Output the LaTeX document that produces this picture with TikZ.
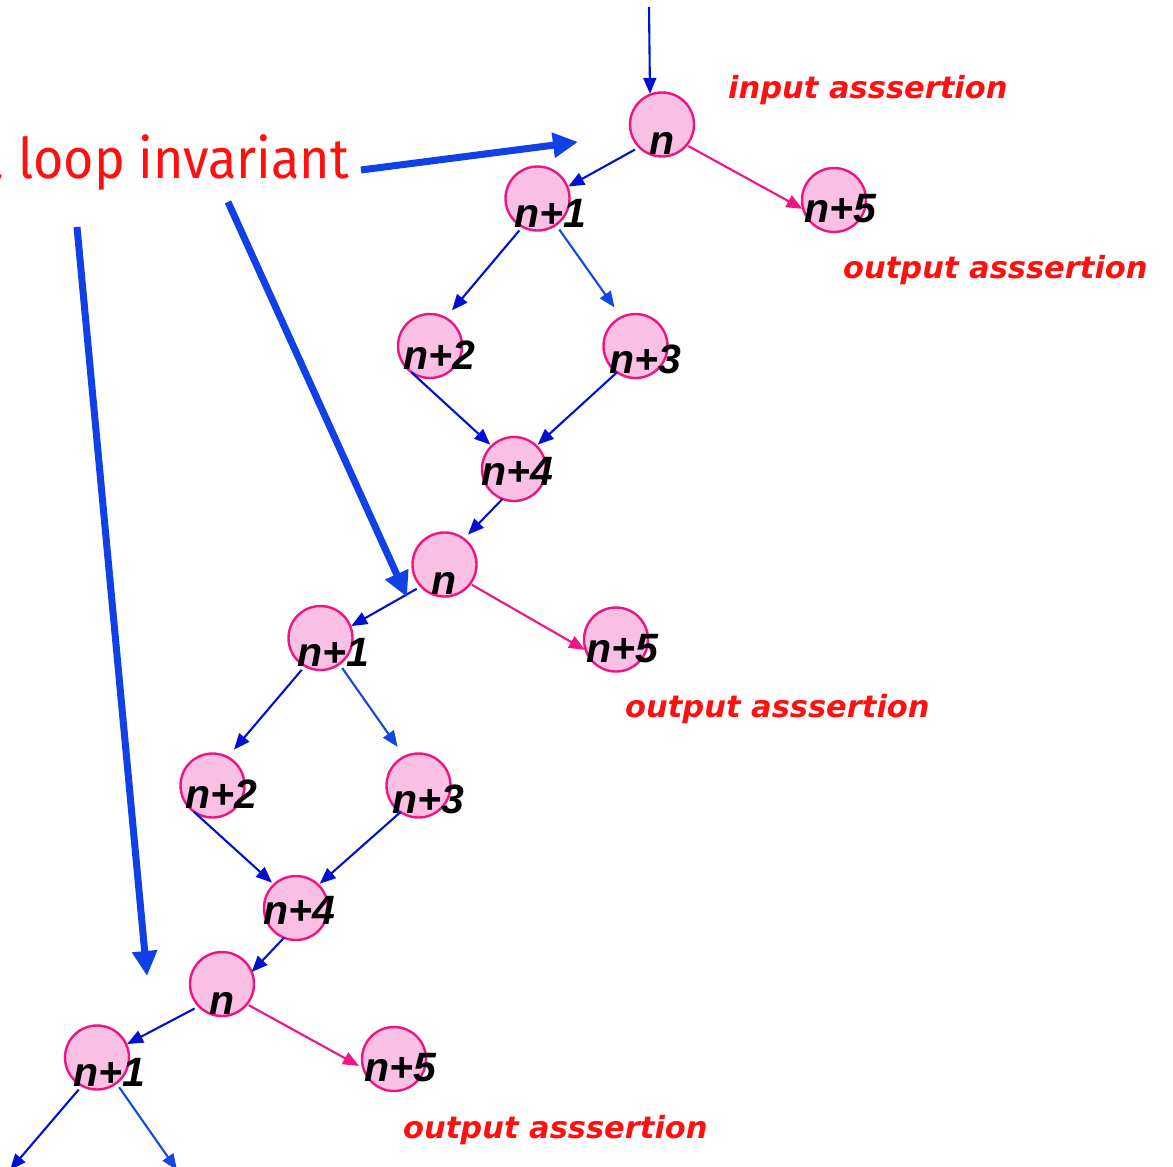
\documentclass[tikz,border=0pt]{standalone}
\usepackage{fontspec}
\usetikzlibrary{arrows.meta}
\newfontfamily\labfont{Liberation Sans}
\newfontfamily\notefont{DejaVu Sans}
\newfontfamily\invfont{Fira Sans}
\definecolor{eblue}{RGB}{0,16,210}
\definecolor{lblue}{RGB}{20,70,228}
\definecolor{tblue}{RGB}{16,64,230}
\definecolor{epink}{RGB}{240,20,130}
\definecolor{cfill}{RGB}{250,192,228}
\definecolor{nred}{RGB}{255,16,16}
\tikzset{
  st/.style={circle, draw=epink, fill=cfill, line width=2.4pt, minimum size=64pt, inner sep=0pt, outer sep=0pt},
  lbl/.style={font=\labfont\bfseries\itshape\fontsize{41}{41}\selectfont, inner sep=0pt},
  nt/.style={text=nred, font=\notefont\bfseries\itshape\fontsize{30.5}{30.5}\selectfont, inner sep=0pt, anchor=base west},
  be/.style={draw=eblue, line width=2.1pt, -{Triangle[length=16pt,width=13pt]}},
  lbe/.style={draw=lblue, line width=2.1pt, -{Triangle[length=16pt,width=13pt]}},
  pe/.style={draw=epink, line width=2.1pt, -{Triangle[length=16pt,width=13pt]}},
  thick arrow/.style={draw=tblue, line width=7pt, -{Triangle[length=25pt,width=24pt]}},
  nn/.style={st, label={[lbl, shift={(0,19)}]center:n}},
  n1/.style={st, label={[lbl, shift={(12.5,14.5)}]center:n+1}},
  n2/.style={st, label={[lbl, shift={(9,9)}]center:n+2}},
  n3/.style={st, label={[lbl, shift={(10,13.5)}]center:n+3}},
  n4/.style={st, label={[lbl, shift={(3,2)}]center:n+4}},
  n5/.style={st, label={[lbl, shift={(6.5,9)}]center:n+5}},
}
\begin{document}
\begin{tikzpicture}[x=1pt, y=-1pt]
\useasboundingbox (0,0) rectangle (1173,1167);
\clip (0,0) rectangle (1173,1167);
\fill[white] (0,0) rectangle (1173,1167);
% group 1
\node[nn] (A) at (662,124.5) {};
\node[n1] (B) at (537.5,198.5) {};
\node[n5] (C) at (834,200) {};
\node[n2] (D) at (430,346) {};
\node[n3] (E) at (635.5,346) {};
\node[n4] (F) at (514,469) {};
% group 2
\node[nn] (G) at (444.5,564.5) {};
\node[n1] (H) at (320.5,638) {};
\node[n5] (I) at (616,639.5) {};
\node[n2] (J) at (212.5,785.5) {};
\node[n3] (K) at (418.5,785.5) {};
\node[n4] (L) at (296,908) {};
% group 3
\node[nn] (M) at (222,984) {};
\node[n1] (N) at (97,1057.5) {};
\node[n5] (O) at (394,1059) {};
% free ends
\coordinate (top) at (649,7);
\coordinate (bl) at (10,1170);
\coordinate (br) at (177,1170);
\coordinate (t1s) at (361,170);
\coordinate (t1e) at (578,142);
\coordinate (t2s) at (228,202);
\coordinate (t2e) at (407,597);
\coordinate (t3s) at (77,227);
\coordinate (t3e) at (147,976);
% edges group 1
\draw[be, shorten >=1pt] (top) -- (A.112);
\draw[be, shorten <=5pt, shorten >=1pt] (A.225) -- (B.21);
\draw[pe, shorten <=2pt, shorten >=1pt] (A.320) -- (C.197);
\draw[be, shorten <=5pt, shorten >=10pt] (B.242) -- (D.61);
\draw[lbe, shorten <=6pt, shorten >=12pt] (B.305) -- (E.116);
\draw[be, shorten <=3pt, shorten >=2pt] (D.229) -- (F.134);
\draw[be, shorten >=2pt] (E.235) -- (F.46);
\draw[be, shorten >=6pt] (F.249) -- (G.53);
% edges group 2
\draw[be, shorten <=5pt, shorten >=1pt] (G.223) -- (H.21);
\draw[pe, shorten <=2pt, shorten >=1pt] (G.323) -- (I.200);
\draw[be, shorten <=5pt, shorten >=10pt] (H.241) -- (J.62);
\draw[lbe, shorten <=5pt, shorten >=12pt] (H.306) -- (K.116);
\draw[be, shorten <=3pt, shorten >=3pt] (J.229) -- (L.133);
\draw[be, shorten >=2pt] (K.236) -- (L.46);
\draw[be] (L.248) -- (M.22);
% edges group 3
\draw[be, shorten <=5pt, shorten >=1pt] (M.224) -- (N.24);
\draw[pe, shorten <=2pt, shorten >=5pt] (M.321) -- (O.197);
\draw[be, shorten <=5pt] (N.242) -- (bl);
\draw[lbe, shorten <=5pt] (N.307) -- (br);
% notes
\node[nt] (inp) at (728,98) {input asssertion};
\node[nt] (out1) at (843,278) {output asssertion};
\node[nt] (out2) at (625,717) {output asssertion};
\node[nt] (out3) at (403,1138) {output asssertion};
\node[text=nred, font=\invfont\fontsize{52}{52}\selectfont, inner sep=0pt, anchor=base east] (inv) at (349,178) {\scalebox{1}[1.08]{a loop invariant}};
\draw[thick arrow] (t1s) -- (t1e);
\draw[thick arrow] (t2s) -- (t2e);
\draw[thick arrow] (t3s) -- (t3e);
\end{tikzpicture}
\end{document}
